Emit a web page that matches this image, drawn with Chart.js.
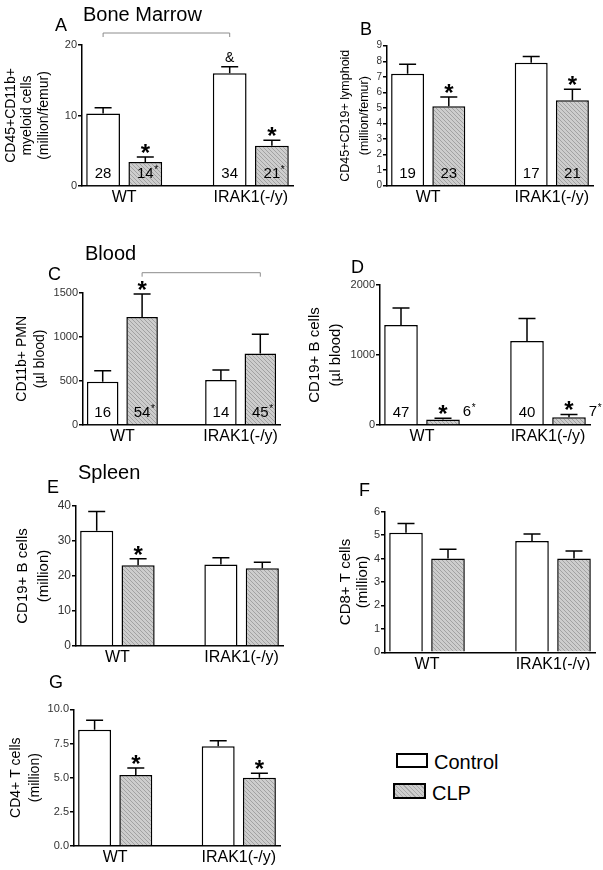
<!DOCTYPE html>
<html>
<head>
<meta charset="utf-8">
<script src="https://cdn.jsdelivr.net/npm/chart.js@4.4.1/dist/chart.umd.min.js"></script>
<style>
  body { margin: 0; background: #fff; }
  #fig { position: relative; width: 603px; height: 870px; overflow: hidden; font-family: "Liberation Sans", Arial, sans-serif; }
  #fig canvas { position: absolute; }
  .lbl { position: absolute; white-space: nowrap; color: #000; }
  .key { position: absolute; border: 2px solid #000; box-sizing: border-box; }
</style>
</head>
<body>
<div id="fig"></div>
<script>
// groups on the x axis and the two series
const groups = ["WT", "IRAK1(-/y)"];
const series = ["Control", "CLP"];

// A - bone marrow myeloid
const aTicks = [0, 10, 20];
const aControl = [10.3, 16.0];
const aControlSem = [0.8, 0.9];
const aClp = [3.4, 5.7];
const aClpSem = [0.7, 0.8];
const aControlN = ["28", "34"];
const aClpN = ["14*", "21*"];
const aControlMark = ["", "&"];
const aClpMark = ["*", "*"];

// B - bone marrow lymphoid
const bTicks = [0, 1, 2, 3, 4, 5, 6, 7, 8, 9];
const bControl = [7.2, 7.9];
const bControlSem = [0.6, 0.4];
const bClp = [5.1, 5.5];
const bClpSem = [0.6, 0.7];
const bControlN = ["19", "17"];
const bClpN = ["23", "21"];
const bControlMark = ["", ""];
const bClpMark = ["*", "*"];

// C - blood PMN
const cTicks = [0, 500, 1000, 1500];
const cControl = [490, 510];
const cControlSem = [125, 115];
const cClp = [1225, 810];
const cClpSem = [260, 220];
const cControlN = ["16", "14"];
const cClpN = ["54*", "45*"];
const cControlMark = ["", ""];
const cClpMark = ["*", ""];

// D - blood B cells
const dTicks = [0, 1000, 2000];
const dControl = [1430, 1200];
const dControlSem = [240, 320];
const dClp = [80, 110];
const dClpSem = [15, 40];
const dControlN = ["47", "40"];
const dClpN = ["6*", "7*"];
const dControlMark = ["", ""];
const dClpMark = ["*", "*"];

// E - spleen B cells
const eTicks = [0, 10, 20, 30, 40];
const eControl = [32.9, 23.3];
const eControlSem = [5.5, 1.9];
const eClp = [23.1, 22.2];
const eClpSem = [1.8, 1.7];
const eClpMark = ["*", ""];

// F - spleen CD8
const fTicks = [0, 1, 2, 3, 4, 5, 6];
const fControl = [5.1, 4.75];
const fControlSem = [0.4, 0.3];
const fClp = [4.0, 4.0];
const fClpSem = [0.4, 0.32];

// G - spleen CD4
const gTicks = [0, 2.5, 5, 7.5, 10];
const gControl = [8.5, 7.3];
const gControlSem = [0.7, 0.4];
const gClp = [5.2, 5.0];
const gClpSem = [0.5, 0.33];
const gClpMark = ["*", "*"];

const FONT = '"Liberation Sans", Arial, sans-serif';
const fig = document.getElementById("fig");

// box = canvas [left, top, w, h]; plot = [axisX, topY, rightX, bottomY] in page px
const panels = [
  { box: [0, 0, 300, 215], plot: [82, 45, 293, 186], ticks: aTicks, tickSize: 11,
    control: aControl, controlSem: aControlSem, clp: aClp, clpSem: aClpSem,
    controlN: aControlN, clpN: aClpN, controlMark: aControlMark, clpMark: aClpMark,
    title: ["CD45+CD11b+", "myeloid cells", "(million/femur)"], titleSize: 14, titleLh: 16.5, titleX: 11,
    bracket: { from: [0, 0], to: [1, 0], rise: 12 } },
  { box: [300, 0, 303, 215], plot: [387, 45.7, 593, 185.7], ticks: bTicks, tickSize: 10,
    control: bControl, controlSem: bControlSem, clp: bClp, clpSem: bClpSem,
    controlN: bControlN, clpN: bClpN, controlMark: bControlMark, clpMark: bClpMark,
    title: ["CD45+CD19+ lymphoid", "(million/femur)"], titleSize: 12.5, titleLh: 19, titleX: 345.5 },
  { box: [0, 215, 300, 235], plot: [83, 292.7, 280, 425], ticks: cTicks, tickSize: 11,
    control: cControl, controlSem: cControlSem, clp: cClp, clpSem: cClpSem,
    controlN: cControlN, clpN: cClpN, controlMark: cControlMark, clpMark: cClpMark,
    title: ["CD11b+ PMN", "(\u00b5l blood)"], titleSize: 14, titleLh: 18, titleX: 22,
    bracket: { from: [0, 1], to: [1, 1], rise: 20 } },
  { box: [300, 215, 303, 235], plot: [380, 285, 590, 425], ticks: dTicks, tickSize: 11,
    control: dControl, controlSem: dControlSem, clp: dClp, clpSem: dClpSem,
    controlN: dControlN, clpN: dClpN, controlMark: dControlMark, clpMark: dClpMark, clpNOutside: true,
    title: ["CD19+ B cells", "(\u00b5l blood)"], titleSize: 15, titleLh: 21, titleX: 315 },
  { box: [0, 450, 300, 220], plot: [76, 506, 283, 646], ticks: eTicks, tickSize: 12,
    control: eControl, controlSem: eControlSem, clp: eClp, clpSem: eClpSem, clpMark: eClpMark,
    title: ["CD19+ B cells", "(million)"], titleSize: 15, titleLh: 21, titleX: 23 },
  { box: [300, 450, 303, 220], plot: [385, 511.7, 595, 652.3], ticks: fTicks, tickSize: 11,
    control: fControl, controlSem: fControlSem, clp: fClp, clpSem: fClpSem,
    title: ["CD8+ T cells", "(million)"], titleSize: 15, titleLh: 17, titleX: 346 },
  { box: [0, 670, 300, 200], plot: [74, 709.3, 280, 846], ticks: gTicks, tickSize: 11, tickFmt: v => v.toFixed(1),
    control: gControl, controlSem: gControlSem, clp: gClp, clpSem: gClpSem, clpMark: gClpMark,
    title: ["CD4+ T cells", "(million)"], titleSize: 14, titleLh: 19.5, titleX: 16 }
];

// five slots: two bars per group and an empty slot between groups
const slotKeys = ["WT-Control", "WT-CLP", "gap", "IRAK-Control", "IRAK-CLP"];
const slotOf = (g, s) => g * 3 + s;
function spread(vals, s) {
  const out = slotKeys.map(() => null);
  if (vals) vals.forEach((v, g) => { out[slotOf(g, s)] = v; });
  return out;
}

// grey hatched fill for CLP
function hatch() {
  const c = document.createElement("canvas");
  c.width = 4; c.height = 4;
  const g = c.getContext("2d");
  g.fillStyle = "#cdcdcd";
  g.fillRect(0, 0, 4, 4);
  g.strokeStyle = "#a2a2a2";
  g.lineWidth = 1;
  g.beginPath();
  g.moveTo(0, 0); g.lineTo(4, 4);
  g.moveTo(-1, 3); g.lineTo(1, 5);
  g.moveTo(3, -1); g.lineTo(5, 1);
  g.stroke();
  return g.createPattern(c, "repeat");
}
const clpFill = hatch();

const marksPlugin = {
  id: "marks",
  afterDatasetsDraw(chart) {
    const { ctx, scales: { x, y }, chartArea } = chart;
    const p = chart.options.panel;
    ctx.save();
    chart.data.datasets.forEach((ds, di) => {
      const meta = chart.getDatasetMeta(di);
      meta.data.forEach((bar, i) => {
        const v = ds.data[i];
        if (v == null) return;
        const { x: bx, y: by, width: bw } = bar.getProps(["x", "y", "width"], true);
        const capY = y.getPixelForValue(v + ds.sem[i]);
        ctx.strokeStyle = "#000";
        ctx.lineWidth = 1.5;
        ctx.beginPath();
        ctx.moveTo(bx, by); ctx.lineTo(bx, capY);
        ctx.moveTo(bx - 8.5, capY); ctx.lineTo(bx + 8.5, capY);
        ctx.stroke();

        ctx.fillStyle = "#000";
        const mark = ds.mark[i];
        if (mark === "*") {
          ctx.font = "bold 24px " + FONT;
          ctx.textAlign = "center";
          ctx.textBaseline = "alphabetic";
          ctx.fillText("*", bx, capY - 10 + 24 * 0.57);
        } else if (mark) {
          ctx.font = "14px " + FONT;
          ctx.textAlign = "center";
          ctx.textBaseline = "middle";
          ctx.fillText(mark, bx, capY - 9);
        }

        const n = ds.nText[i];
        if (n) {
          const star = n.endsWith("*");
          const num = star ? n.slice(0, -1) : n;
          ctx.font = "15px " + FONT;
          ctx.textBaseline = "middle";
          const w = ctx.measureText(num).width;
          let cx, cy;
          if (ds.nOutside) {
            cx = bx + bw / 2 + 3 + w / 2;
            cy = chartArea.bottom - 13;
          } else {
            cx = bx;
            cy = chartArea.bottom - 12;
          }
          ctx.textAlign = "center";
          ctx.fillText(num, cx, cy);
          if (star) {
            ctx.font = "10px " + FONT;
            ctx.textAlign = "left";
            ctx.fillText("*", cx + w / 2 + 0.5, cy - 4);
          }
        }
      });
    });

    // group names under the axis
    ctx.font = "16px " + FONT;
    ctx.fillStyle = "#000";
    ctx.textAlign = "center";
    ctx.textBaseline = "middle";
    groups.forEach((name, g) => {
      const cx = (x.getPixelForValue(slotOf(g, 0)) + x.getPixelForValue(slotOf(g, 1))) / 2;
      ctx.fillText(name, cx, chartArea.bottom + 12);
    });

    // comparison bracket
    if (p.bracket) {
      const b = p.bracket;
      const x1 = x.getPixelForValue(slotOf(b.from[0], b.from[1]));
      const x2 = x.getPixelForValue(slotOf(b.to[0], b.to[1]));
      const yy = chartArea.top - b.rise;
      ctx.strokeStyle = "#8c8c8c";
      ctx.lineWidth = 1;
      ctx.beginPath();
      ctx.moveTo(x1, yy + 4); ctx.lineTo(x1, yy); ctx.lineTo(x2, yy); ctx.lineTo(x2, yy + 4);
      ctx.stroke();
    }
    ctx.restore();
  }
};

panels.forEach(p => {
  const [bl, bt, bw, bh] = p.box;
  const [ax, ty, rx, by] = p.plot;
  const cv = document.createElement("canvas");
  cv.width = bw; cv.height = bh;
  cv.style.left = bl + "px";
  cv.style.top = bt + "px";
  fig.appendChild(cv);

  const blank = [undefined, undefined];
  new Chart(cv.getContext("2d"), {
    type: "bar",
    data: {
      labels: slotKeys,
      datasets: [
        { label: series[0], data: spread(p.control, 0), sem: spread(p.controlSem, 0),
          nText: spread(p.controlN || blank, 0), mark: spread(p.controlMark || blank, 0),
          backgroundColor: "#fff", borderColor: "#000", borderWidth: 1.5,
          grouped: false, barPercentage: 0.8, categoryPercentage: 1 },
        { label: series[1], data: spread(p.clp, 1), sem: spread(p.clpSem, 1),
          nText: spread(p.clpN || blank, 1), mark: spread(p.clpMark || blank, 1), nOutside: !!p.clpNOutside,
          backgroundColor: clpFill, borderColor: "#000", borderWidth: 1.5,
          grouped: false, barPercentage: 0.8, categoryPercentage: 1 }
      ]
    },
    options: {
      panel: p,
      responsive: false,
      animation: false,
      devicePixelRatio: 1,
      layout: { padding: { left: 0, top: ty - bt, right: bl + bw - rx, bottom: 0 } },
      plugins: { legend: { display: false }, tooltip: { enabled: false } },
      scales: {
        x: {
          type: "category",
          offset: true,
          afterFit: s => { s.height = bt + bh - by; },
          ticks: { display: false },
          grid: { display: false },
          border: { display: true, color: "#000", width: 1.5 }
        },
        y: {
          min: p.ticks[0],
          max: p.ticks[p.ticks.length - 1],
          afterBuildTicks: s => { s.ticks = p.ticks.map(v => ({ value: v })); },
          afterFit: s => { s.width = ax - bl; },
          border: { display: true, color: "#000", width: 1.5 },
          grid: { drawOnChartArea: false, drawTicks: true, tickLength: 4, color: "#000", lineWidth: 1.5 },
          ticks: {
            color: "#333",
            padding: 1,
            font: { size: p.tickSize, family: FONT },
            callback: v => p.tickFmt ? p.tickFmt(v) : String(v)
          },
          title: {
            display: true,
            text: p.title,
            color: "#000",
            font: { size: p.titleSize, family: FONT, lineHeight: p.titleLh / p.titleSize },
            padding: { top: p.titleX - bl - p.titleLh / 2, bottom: 0 }
          }
        }
      }
    },
    plugins: [marksPlugin]
  });
});

// headings, panel letters and the legend text
function addText(text, left, baseline, size) {
  const d = document.createElement("div");
  d.className = "lbl";
  d.textContent = text;
  d.style.fontSize = size + "px";
  d.style.lineHeight = (size * 1.117) + "px";
  d.style.left = left + "px";
  d.style.top = (baseline - size * 0.905) + "px";
  fig.appendChild(d);
}
addText("Bone Marrow", 83, 20.7, 20);
addText("A", 55, 31.7, 18);
addText("B", 360, 35, 18);
addText("Blood", 85, 260, 20);
addText("C", 48, 280.7, 18);
addText("D", 351, 273.3, 18);
addText("Spleen", 78, 479.3, 20);
addText("E", 47, 493.3, 18);
addText("F", 359, 496, 18);
addText("G", 49, 688.3, 18);

function addKey(left, top, w, h, bg) {
  const k = document.createElement("div");
  k.className = "key";
  k.style.left = left + "px";
  k.style.top = top + "px";
  k.style.width = w + "px";
  k.style.height = h + "px";
  k.style.background = bg;
  fig.appendChild(k);
}
addKey(395.5, 753, 32, 15, "#fff");
addKey(393, 783, 33, 16, "repeating-linear-gradient(45deg, #cdcdcd 0 2px, #a8a8a8 2px 3px)");
addText(series[0], 434, 769, 20);
addText(series[1], 432, 800, 20);
</script>
</body>
</html>
